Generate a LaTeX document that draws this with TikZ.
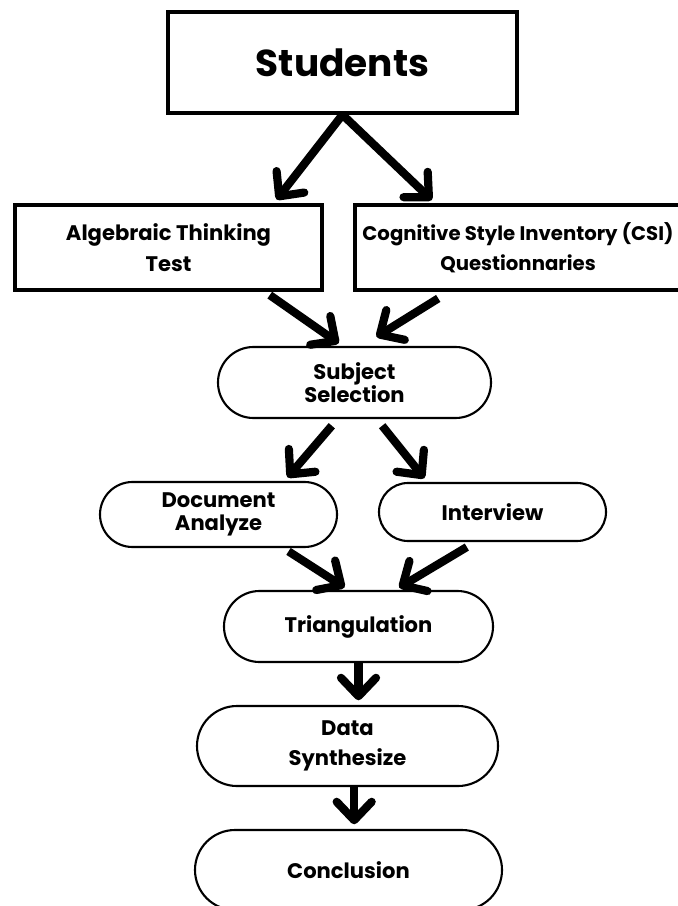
\documentclass[tikz,border=0pt]{standalone}
\usepackage{fontspec}
\setmainfont{Poppins}
\usetikzlibrary{arrows.meta, shapes.misc, calc}

\begin{document}
\begin{tikzpicture}[
    x=0.03cm, y=-0.03cm,
    box/.style={
        rectangle,
        draw,
        line width=3pt,
        align=center,
        inner sep=0pt,
        font=\bfseries\fontsize{18}{26}\selectfont
    },
    pill/.style={
        rounded rectangle,
        draw,
        line width=1.8pt,
        align=center,
        inner sep=0pt,
        font=\bfseries\fontsize{18}{20}\selectfont
    },
    arrow/.style={-{Straight Barb[length=0.55cm, width=1.05cm, round]}, line width=7pt, shorten >=4pt}
]
\useasboundingbox (0,0) rectangle (677,906);

% Top
\node[box, minimum width=10.47cm, minimum height=3.03cm, font=\bfseries\fontsize{32}{36}\selectfont] (students) at (342.5,62.5) {Students};

% Instruments
\node[box, minimum width=9.21cm, minimum height=2.55cm] (test) at (168.5,247.5) {Algebraic Thinking\\Test};
\node[box, minimum width=9.78cm, minimum height=2.55cm, font=\bfseries\fontsize{16.8}{26}\selectfont] (csi) at (518,247.5) {Cognitive Style Inventory (CSI)\\Questionnaries};

% Selection and data collection
\node[pill, minimum width=8.19cm, minimum height=2.13cm] (subject) at (354.5,382.5) {Subject\\Selection};
\node[pill, minimum width=7.11cm, minimum height=1.95cm] (document) at (218.5,514.5) {Document\\Analyze};
\node[pill, minimum width=6.81cm, minimum height=1.74cm] (interview) at (492.5,512) {Interview};

% Analysis
\node[pill, minimum width=8.07cm, minimum height=2.13cm] (triangulation) at (358.5,626.5) {Triangulation};
\node[pill, minimum width=9.03cm, minimum height=2.4cm, font=\bfseries\fontsize{18}{26}\selectfont] (synthesize) at (347.5,746) {Data\\Synthesize};
\node[pill, minimum width=9.21cm, minimum height=2.4cm] (conclusion) at (348.5,870) {Conclusion};

% Arrows
\draw[arrow] (students.south) -- ([xshift=-1.5cm]test.north east);
\draw[arrow] (students.south) -- ([xshift=2.46cm]csi.north west);

\draw[arrow] ([xshift=-1.62cm, yshift=-0.1cm]test.south east) -- ([xshift=-0.36cm]subject.north);
\draw[arrow] ([xshift=2.55cm, yshift=-0.2cm]csi.south west) -- ([xshift=0.54cm, yshift=0.2cm]subject.north);

\draw[arrow] ([xshift=-0.68cm, yshift=-0.2cm]subject.south) -- ([xshift=1.98cm]document.north);
\draw[arrow] ([xshift=0.83cm, yshift=-0.2cm]subject.south) -- ([xshift=-1.96cm]interview.north);

\draw[arrow] ([xshift=2.1cm, yshift=-0.1cm]document.south) -- ([xshift=-0.3cm]triangulation.north);
\draw[arrow] ([xshift=-0.77cm, yshift=-0.15cm]interview.south) -- ([xshift=1.1cm]triangulation.north);

\draw[arrow] (triangulation.south) -- (triangulation.south |- synthesize.north);
\draw[arrow] ([xshift=0.2cm]synthesize.south) -- ([xshift=0.2cm]synthesize.south |- conclusion.north);

\end{tikzpicture}
\end{document}
